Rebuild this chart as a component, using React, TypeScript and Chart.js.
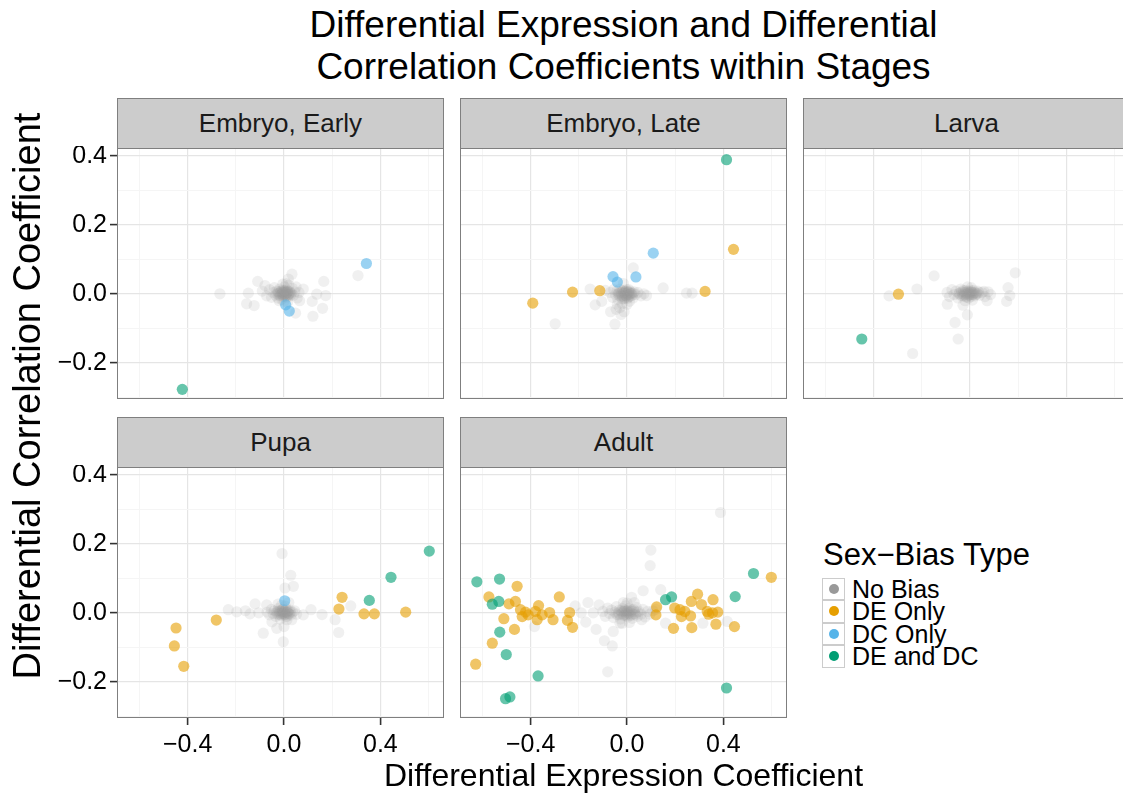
import React, { useEffect, useRef } from "react";
import { Chart, registerables } from "chart.js";

Chart.register(...registerables);

const FONT = '"Liberation Sans", Arial, Helvetica, sans-serif';

// ---- series / legend ----
const SERIES_NAMES = ["No Bias", "DE Only", "DC Only", "DE and DC"];
const SERIES_COLORS = ["#999999", "#E69F00", "#56B4E9", "#009E73"];
const SERIES_ALPHA = [0.15, 0.6, 0.6, 0.6];

// ---- axes ----
const X_MAJOR = [-0.4, 0, 0.4];
const X_MAJOR_LABELS = ["\u22120.4", "0.0", "0.4"];
const X_MINOR = [-0.6, -0.2, 0.2, 0.6];
const Y_MAJOR = [-0.2, 0, 0.2, 0.4];
const Y_MAJOR_LABELS = ["\u22120.2", "0.0", "0.2", "0.4"];
const Y_MINOR = [-0.3, -0.1, 0.1, 0.3];
const X_LIMITS = [-0.693, 0.664];
const Y_LIMITS = [-0.305, 0.42];

const STAGES = ["Embryo, Early", "Embryo, Late", "Larva", "Pupa", "Adult"];

type Pt = [number, number];

// ---- Embryo, Early ----
const EARLY_NO_BIAS: Pt[] = [
  [-0.266, 0.0], [-0.148, 0.002], [-0.155, -0.029], [-0.124, -0.034], [-0.109, 0.036],
  [-0.079, 0.024], [0.307, 0.053], [0.165, 0.036], [0.08, 0.014], [0.136, -0.001],
  [0.173, -0.005], [0.117, -0.022], [0.16, -0.042], [0.12, -0.065], [0.048, -0.056],
  [0.033, 0.057], [0.018, 0.043],
  [-0.09, 0.008], [-0.072, -0.006], [-0.06, 0.012], [-0.052, -0.01], [-0.045, 0.004],
  [-0.04, 0.018], [-0.035, -0.004], [-0.03, 0.008], [-0.026, -0.012], [-0.022, 0.002],
  [-0.018, 0.014], [-0.015, -0.006], [-0.012, 0.006], [-0.01, -0.016], [-0.008, 0.0],
  [-0.005, 0.01], [-0.003, -0.004], [0.0, 0.002], [0.002, 0.02], [0.004, -0.008],
  [0.006, 0.006], [0.008, -0.002], [0.01, 0.012], [0.012, -0.01], [0.015, 0.004],
  [0.018, -0.002], [0.022, 0.008], [0.026, -0.006], [0.03, 0.002], [0.035, 0.016],
  [0.04, -0.004], [0.045, 0.006], [0.055, -0.012], [0.062, 0.004], [0.01, 0.03],
  [0.02, 0.025], [-0.005, 0.028], [0.0, -0.022], [0.015, -0.024], [-0.02, -0.02],
  [0.05, 0.02], [0.065, -0.02],
  [-0.028, 0.0], [-0.024, 0.006], [-0.02, -0.004], [-0.016, 0.002], [-0.013, 0.008],
  [-0.011, -0.002], [-0.007, 0.004], [-0.004, -0.008], [-0.001, 0.006], [0.001, -0.002],
  [0.003, 0.004], [0.005, -0.004], [0.007, 0.008], [0.009, 0.002], [0.011, -0.006],
  [0.013, 0.002], [0.016, 0.008], [0.019, -0.006], [0.021, 0.0], [0.024, 0.004],
  [0.028, -0.002], [0.006, 0.0], [-0.006, 0.002], [0.014, 0.006], [0.002, 0.01],
];
const EARLY_DE_ONLY: Pt[] = [];
const EARLY_DC_ONLY: Pt[] = [[0.342, 0.088], [0.007, -0.032], [0.022, -0.05]];
const EARLY_DE_DC: Pt[] = [[-0.422, -0.277]];

// ---- Embryo, Late ----
const LATE_NO_BIAS: Pt[] = [
  [-0.298, -0.087], [-0.05, -0.088], [-0.153, 0.014], [-0.132, -0.032], [-0.068, -0.052],
  [-0.012, -0.052], [0.026, 0.075], [0.15, 0.017], [0.247, 0.002], [0.27, 0.002],
  [0.081, -0.005], [-0.105, -0.022], [-0.09, 0.01],
  [-0.07, 0.004], [-0.06, -0.01], [-0.055, 0.012], [-0.048, -0.002], [-0.042, 0.008],
  [-0.038, -0.016], [-0.034, 0.002], [-0.03, 0.014], [-0.026, -0.008], [-0.022, 0.004],
  [-0.018, -0.004], [-0.015, 0.01], [-0.012, -0.014], [-0.01, 0.002], [-0.007, 0.006],
  [-0.004, -0.006], [-0.002, 0.012], [0.0, 0.0], [0.003, -0.01], [0.006, 0.004],
  [0.009, -0.002], [0.012, 0.008], [0.016, -0.006], [0.02, 0.002], [0.025, -0.012],
  [0.03, 0.006], [0.036, -0.002], [0.045, 0.004], [0.058, -0.006], [0.07, 0.0],
  [-0.04, -0.03], [-0.03, -0.04], [-0.02, -0.028], [-0.045, -0.045], [-0.025, -0.06],
  [0.0, -0.03], [0.01, -0.022], [-0.015, 0.03],
  [-0.036, 0.0], [-0.032, -0.006], [-0.028, 0.004], [-0.024, -0.002], [-0.02, 0.008],
  [-0.017, -0.008], [-0.014, 0.002], [-0.011, 0.006], [-0.008, -0.004], [-0.005, 0.002],
  [-0.003, 0.008], [-0.001, -0.006], [0.002, 0.004], [0.004, -0.002], [0.007, 0.006],
  [0.01, -0.008], [0.013, 0.002], [0.017, 0.0], [0.022, -0.004], [0.027, 0.002],
  [-0.009, -0.012], [0.001, -0.014], [-0.019, -0.014], [0.008, 0.012],
];
const LATE_DE_ONLY: Pt[] = [
  [0.442, 0.129], [0.324, 0.007], [-0.226, 0.005], [-0.113, 0.009], [-0.391, -0.027],
];
const LATE_DC_ONLY: Pt[] = [[0.109, 0.118], [-0.058, 0.05], [-0.04, 0.034], [0.037, 0.049]];
const LATE_DE_DC: Pt[] = [[0.413, 0.389]];

// ---- Larva ----
const LARVA_NO_BIAS: Pt[] = [
  [-0.336, -0.006], [-0.22, 0.014], [-0.149, 0.052], [-0.238, -0.173], [-0.049, -0.131],
  [-0.062, -0.083], [-0.011, -0.061], [-0.094, -0.03], [0.188, 0.061], [0.158, 0.018],
  [0.165, -0.005], [0.152, -0.022], [0.071, -0.02], [0.058, 0.007], [-0.029, -0.033],
  [-0.095, 0.004], [-0.085, -0.008], [-0.075, 0.012], [-0.066, -0.002], [-0.058, 0.008],
  [-0.05, -0.012], [-0.044, 0.002], [-0.038, 0.014], [-0.032, -0.006], [-0.027, 0.006],
  [-0.022, -0.002], [-0.018, 0.01], [-0.014, -0.01], [-0.01, 0.002], [-0.006, 0.008],
  [-0.003, -0.004], [0.0, 0.004], [0.004, -0.008], [0.008, 0.006], [0.012, -0.002],
  [0.016, 0.01], [0.02, -0.006], [0.026, 0.002], [0.032, 0.008], [0.04, -0.004],
  [0.05, 0.004], [0.062, -0.008], [0.075, 0.006], [0.085, -0.002], [-0.01, 0.02],
  [0.005, 0.018], [-0.02, -0.02], [0.01, -0.018], [-0.005, -0.012],
  [-0.046, 0.0], [-0.04, -0.004], [-0.035, 0.006], [-0.03, 0.0], [-0.025, -0.006],
  [-0.02, 0.004], [-0.016, 0.0], [-0.012, 0.006], [-0.008, -0.004], [-0.004, 0.002],
  [-0.001, -0.002], [0.002, 0.006], [0.006, -0.002], [0.01, 0.004], [0.014, 0.0],
  [0.018, 0.004], [0.023, -0.002], [0.03, 0.0], [0.036, 0.004], [-0.028, 0.01],
  [-0.015, -0.008], [0.004, 0.01],
];
const LARVA_DE_ONLY: Pt[] = [[-0.297, -0.001]];
const LARVA_DC_ONLY: Pt[] = [];
const LARVA_DE_DC: Pt[] = [[-0.449, -0.131]];

// ---- Pupa ----
const PUPA_NO_BIAS: Pt[] = [
  [-0.008, 0.172], [0.028, 0.109], [0.039, 0.077], [0.004, 0.072], [-0.003, -0.084],
  [-0.086, -0.059], [0.227, -0.057], [0.212, -0.02], [0.277, 0.02], [0.158, -0.005],
  [0.112, 0.009], [-0.196, 0.003], [-0.231, 0.009], [-0.141, -0.003], [-0.12, 0.026],
  [-0.072, 0.023], [-0.05, -0.026], [0.032, -0.02], [0.08, -0.006], [-0.16, 0.006],
  [-0.105, 0.0], [0.0, -0.04], [-0.03, -0.045],
  [-0.07, 0.002], [-0.06, -0.006], [-0.052, 0.01], [-0.045, -0.002], [-0.04, 0.006],
  [-0.034, -0.01], [-0.028, 0.004], [-0.024, 0.012], [-0.02, -0.004], [-0.016, 0.006],
  [-0.012, -0.008], [-0.008, 0.002], [-0.005, 0.01], [-0.002, -0.002], [0.001, 0.006],
  [0.004, -0.006], [0.007, 0.002], [0.01, 0.01], [0.013, -0.01], [0.016, 0.004],
  [0.02, -0.002], [0.025, 0.008], [0.03, -0.006], [0.036, 0.002], [0.044, 0.006],
  [0.052, -0.004], [-0.01, 0.022], [0.005, 0.02], [-0.015, -0.018], [0.012, -0.02],
  [0.02, 0.03], [-0.025, 0.025],
  [-0.03, 0.0], [-0.026, -0.004], [-0.022, 0.006], [-0.018, 0.0], [-0.014, -0.004],
  [-0.01, 0.006], [-0.007, -0.002], [-0.004, 0.004], [-0.001, -0.006], [0.002, 0.002],
  [0.005, 0.006], [0.008, -0.004], [0.011, 0.002], [0.014, 0.0], [0.018, 0.006],
  [0.022, -0.004], [0.027, 0.002], [0.0, 0.0], [-0.006, 0.01], [0.009, -0.01],
];
const PUPA_DE_ONLY: Pt[] = [
  [0.241, 0.045], [0.228, 0.011], [0.332, -0.003], [0.375, -0.003], [0.505, 0.002],
  [-0.281, -0.021], [-0.448, -0.044], [-0.455, -0.096], [-0.416, -0.155],
];
const PUPA_DC_ONLY: Pt[] = [[0.003, 0.035]];
const PUPA_DE_DC: Pt[] = [[0.603, 0.179], [0.444, 0.103], [0.354, 0.036]];

// ---- Adult ----
const ADULT_NO_BIAS: Pt[] = [
  [0.388, 0.291], [0.099, 0.182], [0.096, 0.137], [0.067, 0.064], [0.14, 0.067],
  [0.019, 0.045], [-0.08, -0.171], [-0.094, -0.081], [-0.061, -0.096], [-0.057, -0.054],
  [-0.128, -0.048], [-0.171, -0.027], [-0.162, 0.03], [-0.215, 0.02], [-0.116, 0.023],
  [-0.384, -0.04], [0.315, -0.03], [0.416, -0.025], [0.061, -0.02], [-0.029, -0.03],
  [0.12, 0.01], [-0.19, 0.0], [0.16, -0.03], [-0.14, 0.0],
  [-0.1, 0.004], [-0.09, -0.01], [-0.08, 0.014], [-0.072, -0.002], [-0.064, 0.008],
  [-0.056, -0.014], [-0.05, 0.002], [-0.044, 0.018], [-0.038, -0.006], [-0.032, 0.008],
  [-0.027, -0.018], [-0.022, 0.002], [-0.018, 0.012], [-0.014, -0.008], [-0.01, 0.004],
  [-0.006, 0.02], [-0.003, -0.004], [0.0, 0.006], [0.003, -0.012], [0.006, 0.002],
  [0.01, 0.014], [0.014, -0.006], [0.018, 0.004], [0.022, -0.016], [0.027, 0.01],
  [0.032, -0.002], [0.038, 0.016], [0.044, -0.01], [0.05, 0.004], [0.058, -0.004],
  [0.066, 0.01], [0.075, -0.012], [0.085, 0.004], [0.095, -0.004], [0.108, 0.006],
  [0.0, 0.028], [0.01, -0.028], [-0.015, 0.03], [-0.02, -0.03], [0.03, 0.03],
  [-0.035, 0.0], [-0.03, -0.006], [-0.025, 0.006], [-0.02, -0.002], [-0.016, 0.004],
  [-0.012, -0.006], [-0.008, 0.008], [-0.005, 0.0], [-0.002, -0.008], [0.001, 0.004],
  [0.004, -0.002], [0.008, 0.006], [0.012, 0.0], [0.016, -0.008], [0.02, 0.008],
  [0.025, -0.004], [0.03, 0.004], [0.036, -0.006], [0.042, 0.002], [-0.045, -0.004],
];
const ADULT_DE_ONLY: Pt[] = [
  [0.599, 0.103], [0.446, -0.04], [-0.628, -0.149], [-0.559, -0.088], [-0.467, -0.048],
  [-0.511, -0.017], [-0.573, 0.046], [-0.456, 0.077], [-0.49, 0.026], [-0.463, 0.033],
  [-0.442, 0.009], [-0.421, 0.002], [-0.435, -0.011], [-0.41, -0.006], [-0.38, 0.004],
  [-0.367, 0.021], [-0.373, -0.02], [-0.352, -0.006], [-0.321, 0.001], [-0.307, -0.02],
  [-0.281, 0.046], [-0.238, 0.001], [-0.247, -0.022], [-0.226, -0.042],
  [0.123, 0.017], [0.12, -0.006], [0.193, -0.045], [0.198, 0.014], [0.22, 0.009],
  [0.24, 0.004], [0.226, -0.011], [0.264, -0.009], [0.269, -0.043], [0.267, 0.033],
  [0.293, 0.054], [0.309, 0.024], [0.333, 0.004], [0.339, -0.004], [0.357, 0.038],
  [0.377, 0.002], [0.369, -0.033], [0.355, 0.0],
];
const ADULT_DC_ONLY: Pt[] = [];
const ADULT_DE_DC: Pt[] = [
  [-0.623, 0.09], [-0.529, 0.098], [-0.559, 0.025], [-0.532, 0.033], [-0.528, -0.056],
  [-0.501, -0.121], [-0.369, -0.183], [-0.504, -0.249], [-0.486, -0.244], [0.16, 0.038],
  [0.185, 0.046], [0.449, 0.047], [0.525, 0.114], [0.413, -0.218],
];

// per stage, series in legend order
const STAGE_SERIES: Pt[][][] = [
  [EARLY_NO_BIAS, EARLY_DE_ONLY, EARLY_DC_ONLY, EARLY_DE_DC],
  [LATE_NO_BIAS, LATE_DE_ONLY, LATE_DC_ONLY, LATE_DE_DC],
  [LARVA_NO_BIAS, LARVA_DE_ONLY, LARVA_DC_ONLY, LARVA_DE_DC],
  [PUPA_NO_BIAS, PUPA_DE_ONLY, PUPA_DC_ONLY, PUPA_DE_DC],
  [ADULT_NO_BIAS, ADULT_DE_ONLY, ADULT_DC_ONLY, ADULT_DE_DC],
];

// ---- layout (page pixels) ----
const COL_LEFT = [117, 460, 803];
const ROW_TOP = [149, 468];
const PANEL_W = 327;
const PANEL_H = 250;
const STRIP_H = 51;
const X_AXIS_H = 62;
const Y_AXIS_LEFT = 30;
const PAD = 3;

function rgba(hex: string, a: number) {
  const n = parseInt(hex.slice(1), 16);
  return `rgba(${(n >> 16) & 255},${(n >> 8) & 255},${n & 255},${a})`;
}

const near = (list: number[], v: number) => list.findIndex((m) => Math.abs(m - v) < 1e-9);

function Panel({ stage, col, row, showX }: { stage: number; col: number; row: number; showX: boolean }) {
  const ref = useRef<HTMLCanvasElement>(null);
  const L = COL_LEFT[col];
  const T = ROW_TOP[row];
  const showY = col === 0;
  const canvasLeft = showY ? Y_AXIS_LEFT : L - PAD;
  const canvasTop = T - PAD;
  const cw = L + PANEL_W + PAD - canvasLeft;
  const ch = PAD + PANEL_H + (showX ? X_AXIS_H : PAD);

  useEffect(() => {
    if (!ref.current) return;
    const series = STAGE_SERIES[stage];
    // draw order: grey underneath, then DE only, DC only, DE and DC on top
    const datasets = [3, 2, 1, 0].map((k) => ({
      label: SERIES_NAMES[k],
      data: series[k].map(([x, y]) => ({ x, y })),
      backgroundColor: rgba(SERIES_COLORS[k], SERIES_ALPHA[k]),
      borderWidth: 0,
      pointRadius: 5.6,
      pointHoverRadius: 5.6,
    }));

    const gridColor = (major: boolean) => (major ? "#e5e5e5" : "#f5f5f5");

    const chart = new Chart(ref.current, {
      type: "scatter",
      data: { datasets },
      options: {
        animation: false,
        responsive: false,
        events: [],
        layout: {
          autoPadding: false,
          padding: { left: showY ? 0 : PAD, right: PAD, top: PAD, bottom: showX ? 0 : PAD },
        },
        plugins: { legend: { display: false }, tooltip: { enabled: false } },
        scales: {
          x: {
            type: "linear",
            min: X_LIMITS[0],
            max: X_LIMITS[1],
            afterBuildTicks: (s: any) => {
              s.ticks = [...X_MINOR, ...X_MAJOR].sort((a, b) => a - b).map((value) => ({ value }));
            },
            afterFit: (s: any) => {
              s.height = showX ? X_AXIS_H : 0;
              s.paddingLeft = 0;
              s.paddingRight = 0;
            },
            border: { display: false },
            grid: {
              color: (c: any) => gridColor(near(X_MAJOR, c.tick.value) >= 0),
              lineWidth: (c: any) => (near(X_MAJOR, c.tick.value) >= 0 ? 1.2 : 1),
              drawTicks: showX,
              tickLength: 7,
              tickWidth: 1.6,
              tickColor: (c: any) => (near(X_MAJOR, c.tick.value) >= 0 ? "#333333" : "rgba(0,0,0,0)"),
            },
            ticks: {
              display: showX,
              autoSkip: false,
              maxRotation: 0,
              padding: 5,
              color: "#000000",
              font: { family: FONT, size: 25 },
              callback: (v: any) => {
                const i = near(X_MAJOR, Number(v));
                return i >= 0 ? X_MAJOR_LABELS[i] : "";
              },
            },
          },
          y: {
            type: "linear",
            min: Y_LIMITS[0],
            max: Y_LIMITS[1],
            afterBuildTicks: (s: any) => {
              s.ticks = [...Y_MINOR, ...Y_MAJOR].sort((a, b) => a - b).map((value) => ({ value }));
            },
            afterFit: (s: any) => {
              s.width = showY ? L - Y_AXIS_LEFT : 0;
              s.paddingTop = 0;
              s.paddingBottom = 0;
            },
            border: { display: false },
            grid: {
              color: (c: any) => gridColor(near(Y_MAJOR, c.tick.value) >= 0),
              lineWidth: (c: any) => (near(Y_MAJOR, c.tick.value) >= 0 ? 1.2 : 1),
              drawTicks: showY,
              tickLength: 7,
              tickWidth: 1.6,
              tickColor: (c: any) => (near(Y_MAJOR, c.tick.value) >= 0 ? "#333333" : "rgba(0,0,0,0)"),
            },
            ticks: {
              display: showY,
              autoSkip: false,
              padding: 3,
              color: "#000000",
              font: { family: FONT, size: 25 },
              callback: (v: any) => {
                const i = near(Y_MAJOR, Number(v));
                return i >= 0 ? Y_MAJOR_LABELS[i] : "";
              },
            },
          },
        },
      } as any,
    });
    return () => chart.destroy();
  }, []);

  return (
    <>
      <div
        style={{
          position: "absolute",
          left: L,
          top: T - STRIP_H,
          width: PANEL_W,
          height: STRIP_H,
          boxSizing: "border-box",
          background: "#cccccc",
          border: "1.5px solid #7f7f7f",
          display: "flex",
          alignItems: "center",
          justifyContent: "center",
          fontFamily: FONT,
          fontSize: 26,
          color: "#1a1a1a",
        }}
      >
        {STAGES[stage]}
      </div>
      <canvas
        ref={ref}
        width={cw}
        height={ch}
        style={{ position: "absolute", left: canvasLeft, top: canvasTop, width: cw, height: ch }}
      />
      <div
        style={{
          position: "absolute",
          left: L,
          top: T - 1,
          width: PANEL_W,
          height: PANEL_H + 1,
          boxSizing: "border-box",
          border: "1.5px solid #7f7f7f",
          pointerEvents: "none",
        }}
      />
    </>
  );
}

function Legend() {
  const top = 577.5;
  const keyH = 22.5;
  return (
    <>
      <div
        style={{
          position: "absolute",
          left: 823,
          top: 539,
          fontFamily: FONT,
          fontSize: 31,
          lineHeight: "31px",
          whiteSpace: "nowrap",
          color: "#000",
        }}
      >
        Sex{"\u2212"}Bias Type
      </div>
      {SERIES_NAMES.map((name, i) => (
        <React.Fragment key={name}>
          <div
            style={{
              position: "absolute",
              left: 822,
              top: top + i * keyH,
              width: 23,
              height: keyH,
              boxSizing: "border-box",
              border: "1.5px solid #cccccc",
              background: "#ffffff",
            }}
          />
          <div
            style={{
              position: "absolute",
              left: 833.5 - 5,
              top: top + i * keyH + keyH / 2 - 5,
              width: 10,
              height: 10,
              borderRadius: "50%",
              background: SERIES_COLORS[i],
            }}
          />
          <div
            style={{
              position: "absolute",
              left: 852,
              top: top + i * keyH,
              height: keyH,
              fontFamily: FONT,
              fontSize: 25,
              lineHeight: `${keyH}px`,
              whiteSpace: "nowrap",
              color: "#000",
            }}
          >
            {name}
          </div>
        </React.Fragment>
      ))}
    </>
  );
}

export default function App() {
  const centerX = (COL_LEFT[0] + COL_LEFT[2] + PANEL_W) / 2;
  const panels = [
    { stage: 0, col: 0, row: 0, showX: false },
    { stage: 1, col: 1, row: 0, showX: false },
    { stage: 2, col: 2, row: 0, showX: false },
    { stage: 3, col: 0, row: 1, showX: true },
    { stage: 4, col: 1, row: 1, showX: true },
  ];
  const titleStyle: React.CSSProperties = {
    position: "absolute",
    left: centerX - 500,
    width: 1000,
    textAlign: "center",
    fontFamily: FONT,
    fontSize: 37,
    lineHeight: "37px",
    whiteSpace: "nowrap",
    color: "#000",
  };
  const yTitleCenter = 396;
  return (
    <div
      style={{
        position: "absolute",
        left: 0,
        top: 0,
        width: 1123,
        height: 796,
        overflow: "hidden",
        background: "#ffffff",
      }}
    >
      <div style={{ ...titleStyle, top: 6 }}>Differential Expression and Differential</div>
      <div style={{ ...titleStyle, top: 48 }}>Correlation Coefficients within Stages</div>
      {panels.map((p) => (
        <Panel key={p.stage} {...p} />
      ))}
      <div
        style={{
          position: "absolute",
          left: centerX - 400,
          width: 800,
          top: 759,
          textAlign: "center",
          fontFamily: FONT,
          fontSize: 32,
          lineHeight: "32px",
          whiteSpace: "nowrap",
          color: "#000",
        }}
      >
        Differential Expression Coefficient
      </div>
      <div
        style={{
          position: "absolute",
          left: 27 - 350,
          top: yTitleCenter - 19,
          width: 700,
          height: 38,
          textAlign: "center",
          fontFamily: FONT,
          fontSize: 38,
          lineHeight: "38px",
          whiteSpace: "nowrap",
          color: "#000",
          transform: "rotate(-90deg)",
          transformOrigin: "50% 50%",
        }}
      >
        Differential Correlation Coefficient
      </div>
      <Legend />
    </div>
  );
}
